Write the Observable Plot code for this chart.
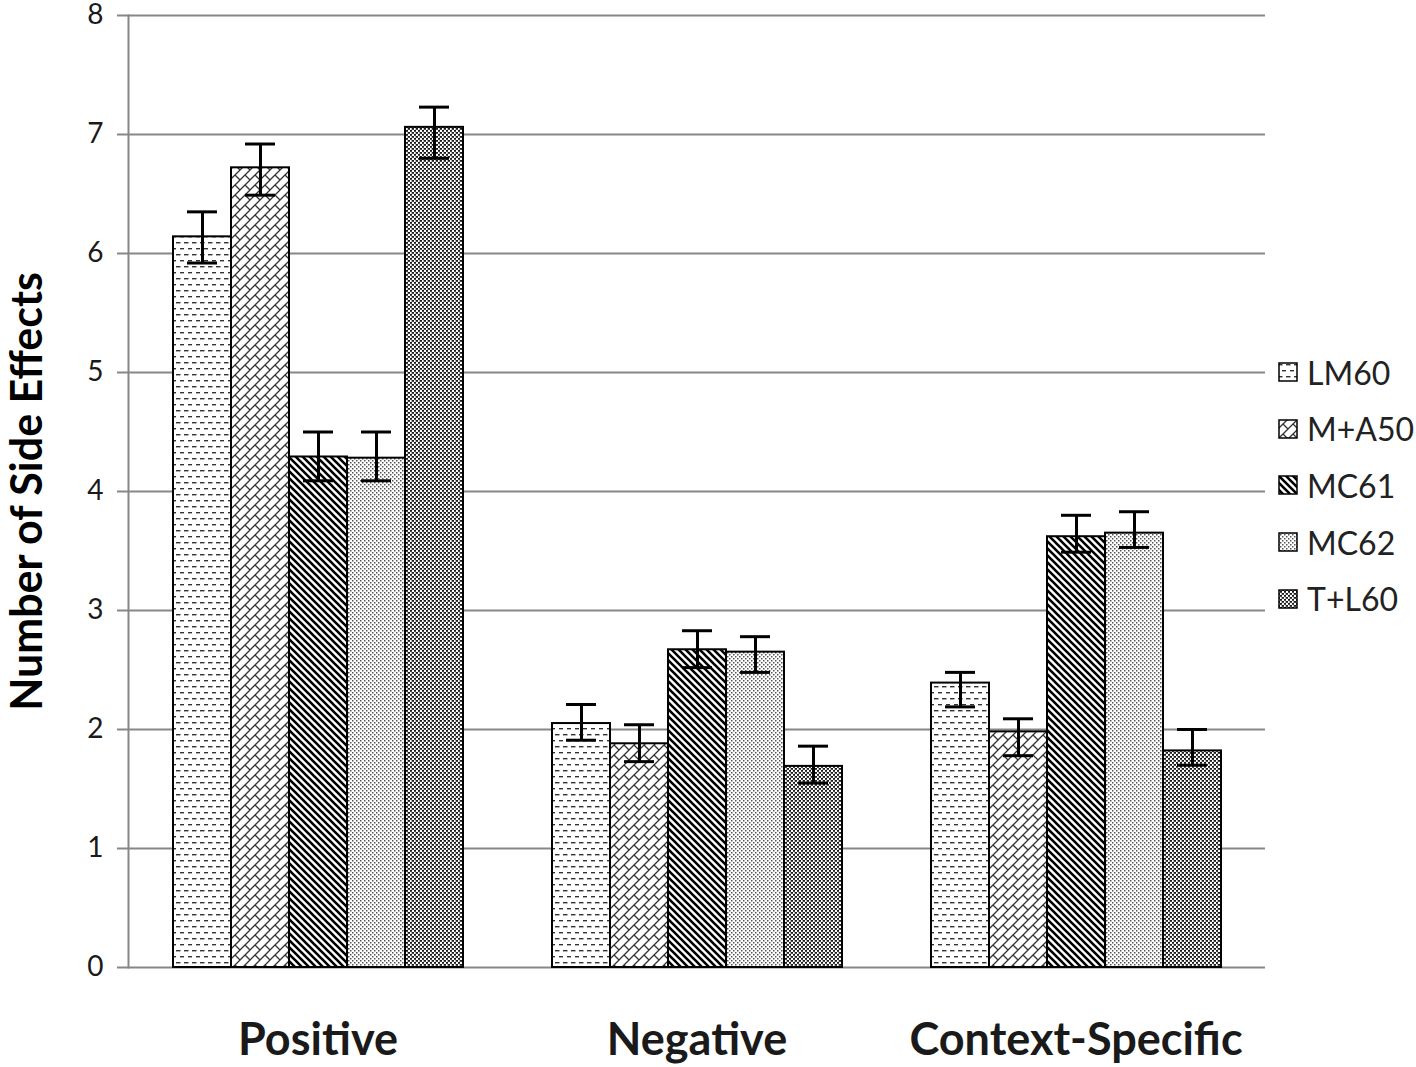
<!DOCTYPE html>
<html><head><meta charset="utf-8">
<script src="https://cdn.jsdelivr.net/npm/d3@7"></script>
<script src="https://cdn.jsdelivr.net/npm/@observablehq/plot@0.6"></script>
<style>
body{margin:0;background:#fff;}
#wrap{position:relative;width:1416px;height:1067px;font-family:Lato,sans-serif;background:#fff;}
#wrap svg.plot{display:block;}
g[aria-label="y-axis label"]{font-size:43px;font-weight:bold;fill:#000;}
g[aria-label="fx-axis tick label"]{font-weight:bold;}
#legend{position:absolute;left:1278px;top:344px;font-family:Lato,sans-serif;font-size:32px;color:#222;}
#legend .row{display:flex;align-items:center;height:56.6px;}
#legend svg{margin-right:9px;}
</style></head><body>
<svg width="0" height="0" style="position:absolute">
<defs>
<pattern id="pat-lm60" patternUnits="userSpaceOnUse" width="8" height="12">
<rect width="8" height="12" fill="#fff"/>
<rect x="0" y="2" width="4.5" height="1.4" fill="#333"/>
<rect x="4" y="8" width="4.5" height="1.4" fill="#333"/>
</pattern>
<pattern id="pat-ma50" patternUnits="userSpaceOnUse" width="10" height="10">
<rect width="10" height="10" fill="#fff"/>
<path d="M-2,12L12,-2M-2,2L2,-2M8,12L12,8M5,5L10,10" stroke="#333" stroke-width="1.3" fill="none"/>
</pattern>
<pattern id="pat-mc61" patternUnits="userSpaceOnUse" width="7" height="7">
<rect width="7" height="7" fill="#fff"/>
<path d="M-1,-1L8,8M-2,5L2,9M5,-2L9,2" stroke="#000" stroke-width="2.6" fill="none"/>
</pattern>
<pattern id="pat-mc62" patternUnits="userSpaceOnUse" width="4" height="4">
<rect width="4" height="4" fill="#fff"/>
<rect x="0" y="0" width="1.5" height="1.5" fill="#555"/>
<rect x="2" y="2" width="1.5" height="1.5" fill="#555"/>
</pattern>
<pattern id="pat-tl60" patternUnits="userSpaceOnUse" width="4" height="4">
<rect width="4" height="4" fill="#fff"/>
<rect x="0" y="0" width="2" height="1.8" fill="#1a1a1a"/>
<rect x="2" y="2" width="2" height="1.8" fill="#1a1a1a"/>
<rect x="3" y="0.5" width="1" height="1" fill="#777"/>
</pattern>
</defs>
</svg>
<div id="wrap"><div id="legend"></div></div>
<script>
const groups = ["Positive", "Negative", "Context-Specific"];
const series = ["LM60", "M+A50", "MC61", "MC62", "T+L60"];
const positiveMean = [6.14, 6.72, 4.29, 4.28, 7.06];
const positiveLow  = [5.92, 6.49, 4.09, 4.09, 6.80];
const positiveHigh = [6.35, 6.92, 4.50, 4.50, 7.23];
const negativeMean = [2.05, 1.88, 2.67, 2.65, 1.69];
const negativeLow  = [1.91, 1.73, 2.52, 2.48, 1.55];
const negativeHigh = [2.21, 2.04, 2.83, 2.78, 1.86];
const contextMean  = [2.39, 1.98, 3.62, 3.65, 1.82];
const contextLow   = [2.19, 1.78, 3.49, 3.53, 1.70];
const contextHigh  = [2.48, 2.09, 3.80, 3.83, 2.00];
const yTicks = [0, 1, 2, 3, 4, 5, 6, 7, 8];
const patternIds = ["pat-lm60", "pat-ma50", "pat-mc61", "pat-mc62", "pat-tl60"];

const table = [];
[[positiveMean, positiveLow, positiveHigh],
 [negativeMean, negativeLow, negativeHigh],
 [contextMean, contextLow, contextHigh]].forEach(([m, lo, hi], gi) => {
  series.forEach((s, si) => table.push({group: groups[gi], series: s, mean: m[si], lo: lo[si], hi: hi[si]}));
});

const chart = Plot.plot({
  width: 1416, height: 1067,
  marginTop: 15, marginBottom: 100, marginLeft: 128, marginRight: 151,
  style: {fontFamily: "Lato, sans-serif", color: "#1a1a1a", background: "#fff"},
  fx: {domain: groups, padding: 0},
  x: {domain: series, paddingInner: 0, paddingOuter: 0.742, axis: null},
  y: {domain: [0, 8]},
  color: {domain: series, range: patternIds.map(id => `url(#${id})`)},
  marks: [
    Plot.ruleY(yTicks, {stroke: "#878787", strokeWidth: 2}),
    Plot.frame({anchor: "left", facetAnchor: "left", stroke: "#878787", strokeWidth: 2}),
    Plot.axisY({ticks: yTicks, tickSize: 11, tickPadding: 14, fontSize: 28, stroke: "#878787", strokeWidth: 2,
      label: "Number of Side Effects", labelAnchor: "center", labelArrow: "none", labelOffset: 117}),
    Plot.axisFx({anchor: "bottom", tickSize: 0, tickPadding: 56, fontSize: 45, fontWeight: "bold", label: null}),
    Plot.barY(table, {fx: "group", x: "series", y: "mean", fill: "series", stroke: "#000", strokeWidth: 2, inset: 0}),
    Plot.ruleX(table, {fx: "group", x: "series", y1: "lo", y2: "hi", stroke: "#000", strokeWidth: 3}),
    Plot.tickY(table, {fx: "group", x: "series", y: "lo", inset: 14, stroke: "#000", strokeWidth: 3}),
    Plot.tickY(table, {fx: "group", x: "series", y: "hi", inset: 14, stroke: "#000", strokeWidth: 3})
  ]
});
chart.classList.add("plot");
const wrap = document.getElementById("wrap");
wrap.insertBefore(chart, wrap.firstChild);

const legend = document.getElementById("legend");
series.forEach((s, i) => {
  const row = document.createElement("div");
  row.className = "row";
  row.innerHTML = `<svg width="20" height="20"><rect x="1" y="1" width="18" height="18" fill="url(#${patternIds[i]})" stroke="#000" stroke-width="1.5"/></svg><span>${s}</span>`;
  legend.appendChild(row);
});
</script>
</body></html>
